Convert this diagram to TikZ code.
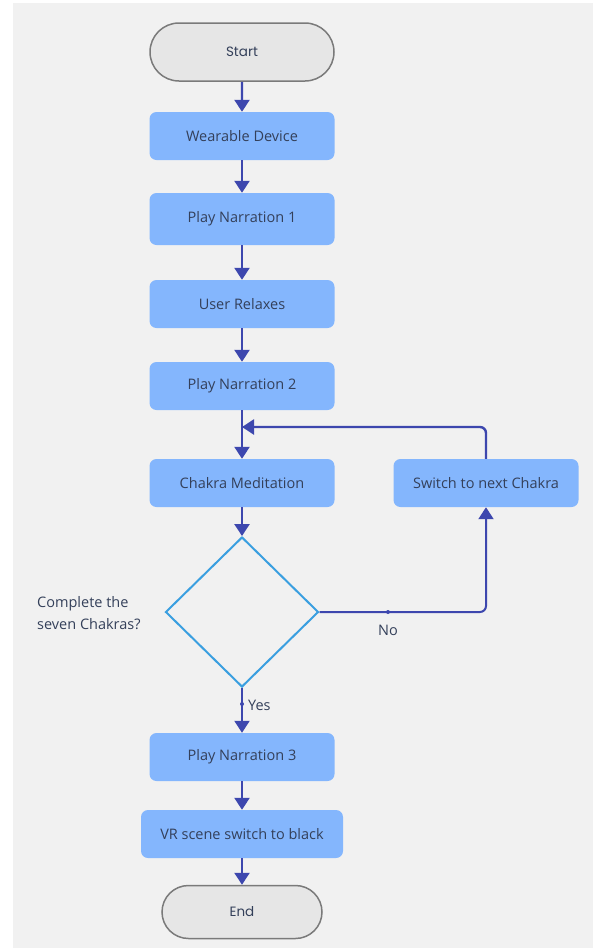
\documentclass[tikz,border=0pt]{standalone}
\usepackage{fontspec}
\setmainfont{Open Sans}
\newfontfamily\termfont{Poppins}
\usetikzlibrary{arrows.meta,shapes.geometric,shapes.misc}
\definecolor{bg}{HTML}{F1F1F1}
\definecolor{boxblue}{HTML}{84B6FD}
\definecolor{txt}{HTML}{34405A}
\definecolor{arr}{HTML}{3D47AE}
\definecolor{dia}{HTML}{3A9FE0}
\definecolor{termfill}{HTML}{E6E6E6}
\definecolor{termline}{HTML}{7A7A7A}
\tikzset{
  procbox/.style={fill=boxblue, rounded corners=7pt, minimum width=185pt, minimum height=48pt, inner sep=0pt, text=txt, font=\fontsize{14.5}{17}\selectfont},
  termbox/.style={rounded rectangle, fill=termfill, draw=termline, line width=1.5pt, minimum height=58pt, inner sep=0pt, text=txt, font=\termfont\fontsize{13.5}{16}\selectfont},
  flow/.style={draw=arr, line width=2.4pt, -{Triangle[width=15pt,length=12pt]}},
  lbl/.style={text=txt, font=\fontsize{14.5}{22}\selectfont, inner sep=0pt},
  dotmark/.style={circle, fill=arr, inner sep=0pt, minimum size=4pt}
}
\begin{document}
\begin{tikzpicture}[x=1pt,y=-1pt]
\useasboundingbox (0,0) rectangle (593,948);
\fill[white] (0,0) rectangle (593,948);
\fill[bg] (13,3) rectangle (593,948);
\node[termbox, minimum width=184pt] (start) at (242,52) {Start};
\node[procbox] (wd) at (242,136) {Wearable Device};
\node[procbox, minimum height=52pt] (pn1) at (242,219) {Play Narration 1};
\node[procbox] (ur) at (242,304) {User Relaxes};
\node[procbox] (pn2) at (242,386) {Play Narration 2};
\node[procbox] (cm) at (242,483) {Chakra Meditation};
\node[procbox] (sw) at (486,483) {Switch to next Chakra};
\node[diamond, draw=dia, line width=2pt, minimum width=153pt, minimum height=150pt, inner sep=0pt, shape aspect=1] (d) at (242,612) {};
\node[lbl, anchor=west, align=left] (q) at (37,613) {Complete the\\seven Chakras?};
\node[procbox] (pn3) at (242,757) {Play Narration 3};
\node[procbox, minimum width=202pt] (vr) at (242,834) {VR scene switch to black};
\node[termbox, minimum width=160pt, minimum height=53pt] (end) at (242,912) {End};
\coordinate (j) at (242,427);
\coordinate (nc) at (486,612);
\draw[flow] (start) -- (wd);
\draw[flow] (wd) -- (pn1);
\draw[flow] (pn1) -- (ur);
\draw[flow] (ur) -- (pn2);
\draw[flow] (pn2) -- (cm);
\draw[flow] (cm) -- (d.north);
\draw[flow, rounded corners=6pt] (sw.north) |- (j);
\draw[flow, rounded corners=6pt, line width=2pt] (d.east) -- (nc) -- (sw.south);
\node[dotmark] (nodot) at (388,612) {};
\node[lbl] (no) at (388,630) {No};
\draw[flow, line width=2pt] (d.south) -- (pn3);
\node[dotmark] (yesdot) at (242,704) {};
\node[lbl, anchor=west] (yes) at (248,705) {Yes};
\draw[flow] (pn3) -- (vr);
\draw[flow] (vr) -- (end);
\end{tikzpicture}
\end{document}
